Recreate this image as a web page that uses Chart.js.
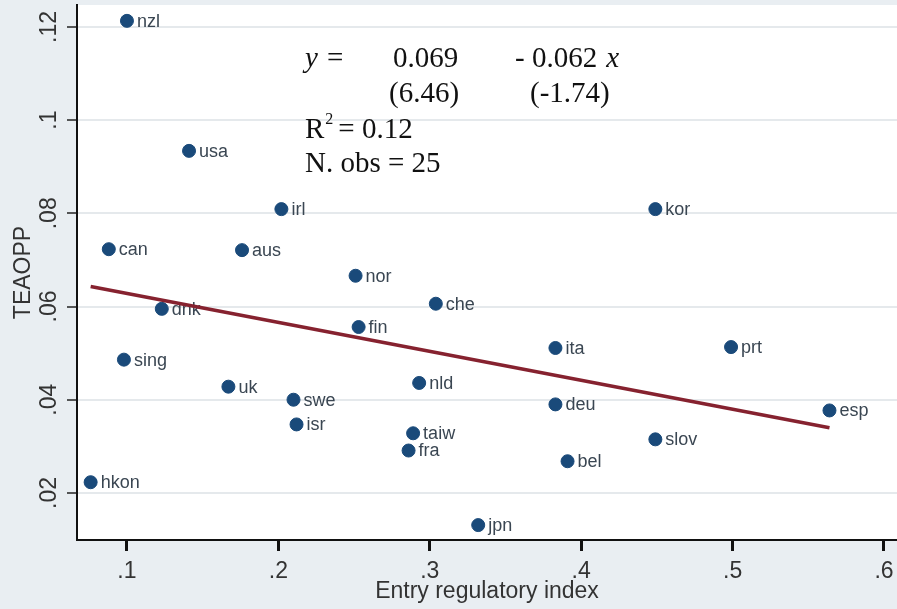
<!DOCTYPE html>
<html>
<head>
<meta charset="utf-8">
<script src="https://cdn.jsdelivr.net/npm/chart.js@4.4.0/dist/chart.umd.min.js"></script>
<style>
  html, body { margin: 0; padding: 0; background: #e9eef2; }
  canvas { display: block; }
</style>
</head>
<body>
<canvas id="chart" width="897" height="609"></canvas>
<script>
// country codes, entry regulatory index (x) and TEAOPP (y)
const countries = ["nzl", "usa", "irl", "kor", "can", "aus", "nor", "che", "dnk", "fin",
  "sing", "ita", "prt", "uk", "nld", "swe", "isr", "deu", "taiw", "fra",
  "slov", "bel", "esp", "hkon", "jpn"];
const entryIndex = [0.100, 0.141, 0.202, 0.449, 0.088, 0.176, 0.251, 0.304, 0.123, 0.253,
  0.098, 0.383, 0.499, 0.167, 0.293, 0.210, 0.212, 0.383, 0.289, 0.286,
  0.449, 0.391, 0.564, 0.076, 0.332];
const teaopp = [0.1213, 0.0934, 0.0809, 0.0809, 0.0723, 0.0721, 0.0666, 0.0606, 0.0595, 0.0556,
  0.0486, 0.0511, 0.0513, 0.0428, 0.0436, 0.0400, 0.0347, 0.0390, 0.0328, 0.0291,
  0.0315, 0.0268, 0.0377, 0.0223, 0.0131];

// fitted line end points (y = 0.069 - 0.062 x over the data range)
const fitX = [0.076, 0.564];
const fitY = [0.0643, 0.0340];

const xTicks = [0.1, 0.2, 0.3, 0.4, 0.5, 0.6];
const yTicks = [0.02, 0.04, 0.06, 0.08, 0.10, 0.12];

const fmt = v => String(+v.toFixed(2)).replace(/^0\./, ".");

const plotBg = {
  id: "plotBg",
  beforeDraw(chart) {
    const { ctx, chartArea: a } = chart;
    ctx.save();
    ctx.fillStyle = "#ffffff";
    ctx.fillRect(a.left, a.top, a.right - a.left, a.bottom - a.top);
    ctx.restore();
  }
};

// country labels next to the markers, drawn before the fit line
const pointLabels = {
  id: "pointLabels",
  afterDatasetDraw(chart, args) {
    if (args.index !== 0) return;
    const ctx = chart.ctx;
    ctx.save();
    ctx.font = '18px "Liberation Sans"';
    ctx.fillStyle = "#3a4652";
    ctx.textBaseline = "middle";
    args.meta.data.forEach((pt, i) => {
      ctx.fillText(countries[i], pt.x + 10, pt.y + 1);
    });
    ctx.restore();
  }
};

// regression text box
const equation = {
  id: "equation",
  afterDraw(chart) {
    const ctx = chart.ctx;
    const a = chart.chartArea;
    const x0 = a.left + 228;
    const y0 = a.top;
    ctx.save();
    ctx.fillStyle = "#111111";
    ctx.textBaseline = "alphabetic";
    ctx.font = 'italic 29px "Liberation Serif"';
    ctx.fillText("y", x0, y0 + 62);
    ctx.font = '29px "Liberation Serif"';
    ctx.fillText("=", x0 + 22, y0 + 62);
    ctx.fillText("0.069", x0 + 88, y0 + 62);
    ctx.fillText("- 0.062", x0 + 210, y0 + 62);
    const w = ctx.measureText("- 0.062").width;
    ctx.font = 'italic 29px "Liberation Serif"';
    ctx.fillText("x", x0 + 210 + w + 9, y0 + 62);
    ctx.font = '29px "Liberation Serif"';
    ctx.fillText("(6.46)", x0 + 84, y0 + 97);
    ctx.fillText("(-1.74)", x0 + 225, y0 + 97);
    ctx.fillText("R", x0, y0 + 133);
    const rw = ctx.measureText("R").width;
    ctx.font = '16px "Liberation Serif"';
    ctx.fillText("2", x0 + rw + 1, y0 + 119);
    ctx.font = '29px "Liberation Serif"';
    ctx.fillText("= 0.12", x0 + rw + 14, y0 + 133);
    ctx.fillText("N. obs = 25", x0, y0 + 167);
    ctx.restore();
  }
};

new Chart(document.getElementById("chart"), {
  type: "scatter",
  data: {
    datasets: [
      {
        label: "TEAOPP",
        data: entryIndex.map((x, i) => ({ x, y: teaopp[i] })),
        backgroundColor: "#1a4a7a",
        borderColor: "#1a4a7a",
        pointRadius: 6.5,
        pointHoverRadius: 6.5,
        clip: false,
        order: 2
      },
      {
        type: "line",
        label: "Fitted values",
        data: fitX.map((x, i) => ({ x, y: fitY[i] })),
        borderColor: "#86222f",
        borderWidth: 3.5,
        pointRadius: 0,
        fill: false,
        order: 1
      }
    ]
  },
  options: {
    responsive: false,
    animation: false,
    devicePixelRatio: 1,
    layout: { autoPadding: false, padding: { top: 5, right: 0, left: 0, bottom: 0 } },
    plugins: {
      legend: { display: false },
      tooltip: { enabled: false }
    },
    scales: {
      x: {
        type: "linear",
        min: 0.067,
        max: 0.6086,
        afterBuildTicks: s => { s.ticks = xTicks.map(v => ({ value: v })); },
        afterFit: s => { s.height = 69; s.paddingLeft = 0; s.paddingRight = 0; },
        border: { display: true, color: "#111111", width: 2 },
        grid: { drawOnChartArea: false, drawTicks: true, tickLength: 11, tickWidth: 3, tickColor: "#111111" },
        ticks: {
          callback: v => fmt(v),
          color: "#333333",
          font: { family: "Liberation Sans", size: 23 },
          padding: 7,
          maxRotation: 0
        },
        title: {
          display: true,
          text: "Entry regulatory index",
          color: "#333333",
          font: { family: "Liberation Sans", size: 23 },
          padding: { top: 0, bottom: 4 }
        }
      },
      y: {
        type: "linear",
        min: 0.0099,
        max: 0.1247,
        afterBuildTicks: s => { s.ticks = yTicks.map(v => ({ value: v })); },
        afterFit: s => { s.width = 77; s.paddingTop = 0; s.paddingBottom = 0; },
        border: { display: true, color: "#111111", width: 2 },
        grid: { color: "#e5e9ec", lineWidth: 2, drawTicks: true, tickLength: 10, tickWidth: 1.5, tickColor: "#222222" },
        ticks: {
          callback: v => fmt(v),
          color: "#333333",
          font: { family: "Liberation Sans", size: 23 },
          minRotation: 90,
          maxRotation: 90,
          crossAlign: "center",
          padding: 1
        },
        title: {
          display: true,
          text: "TEAOPP",
          color: "#333333",
          font: { family: "Liberation Sans", size: 23 },
          padding: { top: 10, bottom: 0 }
        }
      }
    }
  },
  plugins: [plotBg, pointLabels, equation]
});
</script>
</body>
</html>
